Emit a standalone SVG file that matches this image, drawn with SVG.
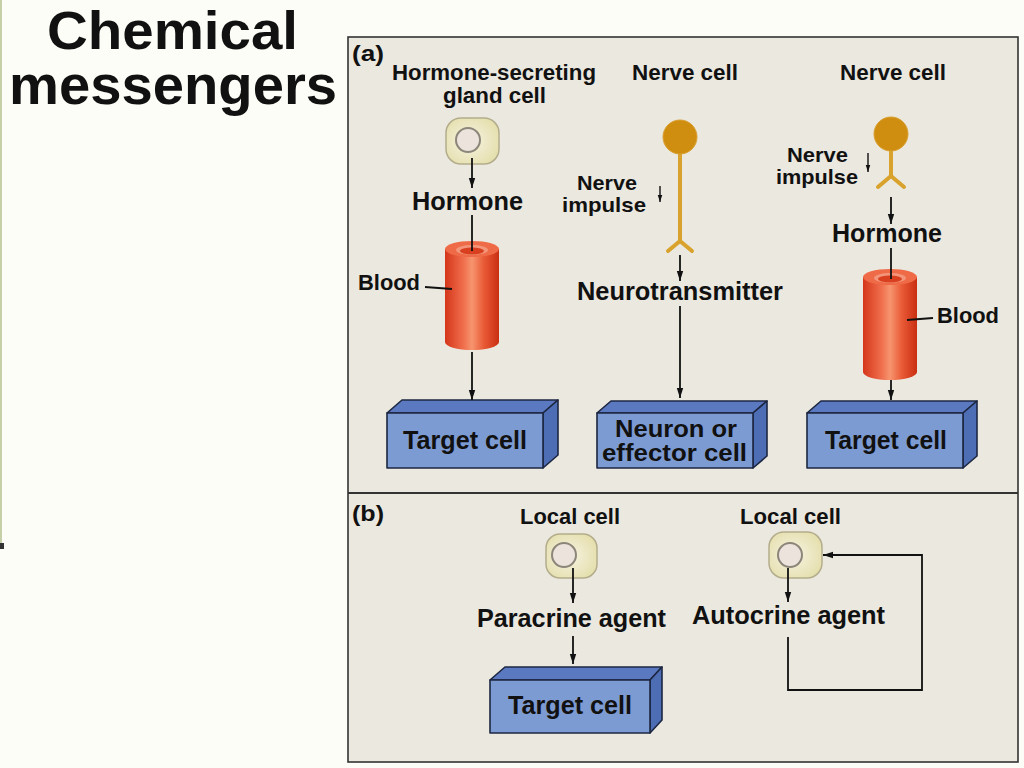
<svg xmlns="http://www.w3.org/2000/svg" width="1024" height="768" viewBox="0 0 1024 768">
<defs>
<style>
.t{font-family:"Liberation Sans",Arial,sans-serif;font-weight:bold;fill:#111;}
.ln{stroke:#111;stroke-width:1.8;fill:none;}
.ar{stroke:#111;stroke-width:1.8;fill:none;marker-end:url(#ah);}
.sm{stroke:#111;stroke-width:1.4;fill:none;marker-end:url(#ahs);}
.front{fill:#7d9bd3;stroke:#1d2742;stroke-width:1.6;stroke-linejoin:round;}
.top{fill:#5b79c1;stroke:#1d2742;stroke-width:1.6;stroke-linejoin:round;}
.side{fill:#4d6db5;stroke:#1d2742;stroke-width:1.6;stroke-linejoin:round;}
.cell{fill:url(#cellg);stroke:#b4ad8c;stroke-width:1.5;}
.nuc{fill:#ebe3dc;stroke:#8c867a;stroke-width:2;}
.soma{fill:#d08e10;stroke:#d9a030;stroke-width:1;}
.axon{stroke:#d9a22c;stroke-width:4;fill:none;stroke-linecap:round;stroke-linejoin:round;}
</style>
<marker id="ah" viewBox="0 0 10 8" refX="10" refY="4" markerWidth="10" markerHeight="8" markerUnits="userSpaceOnUse" orient="auto"><path d="M0,0.8 L10,4 L0,7.2 Z" fill="#111"/></marker>
<marker id="ahs" viewBox="0 0 10 8" refX="10" refY="4" markerWidth="7" markerHeight="6" markerUnits="userSpaceOnUse" orient="auto"><path d="M0,0.8 L10,4 L0,7.2 Z" fill="#111"/></marker>
<radialGradient id="cellg" cx="0.45" cy="0.5" r="0.6"><stop offset="0" stop-color="#f6f3e2"/><stop offset="1" stop-color="#e5dfad"/></radialGradient>
<linearGradient id="cyl" x1="0" y1="0" x2="1" y2="0"><stop offset="0" stop-color="#d5361a"/><stop offset="0.35" stop-color="#f0704e"/><stop offset="0.5" stop-color="#f6956f"/><stop offset="0.72" stop-color="#e95a36"/><stop offset="1" stop-color="#c92f12"/></linearGradient>
</defs>
<rect x="0" y="0" width="1024" height="768" fill="#fdfdf8"/>
<rect x="0" y="0" width="2" height="545" fill="#c5cfa8"/>
<rect x="0" y="543" width="4" height="6" fill="#333"/>
<g id="title">
<text class="t" x="47" y="49" font-size="53" textLength="251" lengthAdjust="spacingAndGlyphs">Chemical</text>
<text class="t" x="9" y="104" font-size="55" textLength="328" lengthAdjust="spacingAndGlyphs">messengers</text>
</g>
<g id="panel">
<rect x="348" y="37" width="670" height="725" fill="#ebe8df" stroke="#333" stroke-width="1.6"/>
<line x1="348" y1="493" x2="1018" y2="493" stroke="#333" stroke-width="1.8"/>
<text class="t" x="352" y="61" font-size="22" textLength="32" lengthAdjust="spacingAndGlyphs">(a)</text>
<text class="t" x="352" y="521" font-size="22" textLength="32" lengthAdjust="spacingAndGlyphs">(b)</text>
</g>
<g id="gland-cell">
<text class="t" x="392" y="80" font-size="22" textLength="204" lengthAdjust="spacingAndGlyphs">Hormone-secreting</text>
<text class="t" x="443" y="103" font-size="22" textLength="103" lengthAdjust="spacingAndGlyphs">gland cell</text>
<rect class="cell" x="446" y="118" width="53" height="46" rx="15"/>
<circle class="nuc" cx="468" cy="140" r="12"/>
</g>
<g id="hormone-left"><text class="t" x="412" y="210" font-size="25" textLength="111" lengthAdjust="spacingAndGlyphs">Hormone</text></g>
<g id="blood-left">
<path d="M445,249 V342 A27,8 0 0 0 499,342 V249 Z" fill="url(#cyl)"/>
<ellipse cx="472" cy="249" rx="27" ry="8" fill="#ef6a47"/>
<ellipse cx="472" cy="250" rx="16" ry="5" fill="#f3957a"/>
<ellipse cx="472" cy="251" rx="12" ry="3.5" fill="#d8401f"/>
<text class="t" x="358" y="290" font-size="22" textLength="62" lengthAdjust="spacingAndGlyphs">Blood</text>
</g>
<g id="target-left">
<polygon class="top" points="387,413 402,400 558,400 543,413"/>
<polygon class="side" points="543,413 558,400 558,455 543,468"/>
<rect class="front" x="387" y="413" width="156" height="55"/>
<text class="t" x="403" y="449" font-size="25" textLength="124" lengthAdjust="spacingAndGlyphs">Target cell</text>
</g>
<g id="nerve-mid">
<text class="t" x="632" y="80" font-size="22" textLength="106" lengthAdjust="spacingAndGlyphs">Nerve cell</text>
<path class="axon" d="M680,150 V242 M668,251 L680,241 L692,251"/>
<circle class="soma" cx="680" cy="137" r="17"/>
<text class="t" x="577" y="190" font-size="21" textLength="60" lengthAdjust="spacingAndGlyphs">Nerve</text>
<text class="t" x="562" y="212" font-size="21" textLength="84" lengthAdjust="spacingAndGlyphs">impulse</text>
</g>
<g id="neurotransmitter"><text class="t" x="577" y="300" font-size="25" textLength="206" lengthAdjust="spacingAndGlyphs">Neurotransmitter</text></g>
<g id="neuron-effector">
<polygon class="top" points="597,413 611,401 767,401 753,413"/>
<polygon class="side" points="753,413 767,401 767,456 753,468"/>
<rect class="front" x="597" y="413" width="156" height="55"/>
<text class="t" x="615" y="437" font-size="24" textLength="122" lengthAdjust="spacingAndGlyphs">Neuron or</text>
<text class="t" x="602" y="461" font-size="24" textLength="145" lengthAdjust="spacingAndGlyphs">effector cell</text>
</g>
<g id="nerve-right">
<text class="t" x="840" y="80" font-size="22" textLength="106" lengthAdjust="spacingAndGlyphs">Nerve cell</text>
<path class="axon" d="M891,148 V176 M878,187 L891,176 L904,187"/>
<circle class="soma" cx="891" cy="134" r="17"/>
<text class="t" x="787" y="162" font-size="21" textLength="61" lengthAdjust="spacingAndGlyphs">Nerve</text>
<text class="t" x="776" y="184" font-size="21" textLength="82" lengthAdjust="spacingAndGlyphs">impulse</text>
</g>
<g id="hormone-right"><text class="t" x="832" y="242" font-size="25" textLength="110" lengthAdjust="spacingAndGlyphs">Hormone</text></g>
<g id="blood-right">
<path d="M863,277 V372 A27,8 0 0 0 917,372 V277 Z" fill="url(#cyl)"/>
<ellipse cx="890" cy="277" rx="27" ry="8" fill="#ef6a47"/>
<ellipse cx="890" cy="278" rx="16" ry="5" fill="#f3957a"/>
<ellipse cx="890" cy="279" rx="12" ry="3.5" fill="#d8401f"/>
<text class="t" x="937" y="323" font-size="22" textLength="62" lengthAdjust="spacingAndGlyphs">Blood</text>
</g>
<g id="target-right">
<polygon class="top" points="807,413 821,401 977,401 963,413"/>
<polygon class="side" points="963,413 977,401 977,456 963,468"/>
<rect class="front" x="807" y="413" width="156" height="55"/>
<text class="t" x="825" y="449" font-size="25" textLength="122" lengthAdjust="spacingAndGlyphs">Target cell</text>
</g>
<g id="local-cell-left">
<text class="t" x="520" y="524" font-size="22" textLength="100" lengthAdjust="spacingAndGlyphs">Local cell</text>
<rect class="cell" x="546" y="534" width="51" height="44" rx="14"/>
<circle class="nuc" cx="564" cy="555" r="12"/>
</g>
<g id="paracrine"><text class="t" x="477" y="627" font-size="25" textLength="189" lengthAdjust="spacingAndGlyphs">Paracrine agent</text></g>
<g id="target-b">
<polygon class="top" points="490,680 505,667 662,667 650,680"/>
<polygon class="side" points="650,680 662,667 662,720 650,733"/>
<rect class="front" x="490" y="680" width="160" height="53"/>
<text class="t" x="508" y="714" font-size="25" textLength="124" lengthAdjust="spacingAndGlyphs">Target cell</text>
</g>
<g id="local-cell-right">
<text class="t" x="740" y="524" font-size="22" textLength="101" lengthAdjust="spacingAndGlyphs">Local cell</text>
<rect class="cell" x="769" y="532" width="53" height="46" rx="15"/>
<circle class="nuc" cx="790" cy="555" r="12"/>
</g>
<g id="autocrine"><text class="t" x="692" y="624" font-size="25" textLength="193" lengthAdjust="spacingAndGlyphs">Autocrine agent</text></g>
<g id="connectors">
<path class="ar" d="M472,158 V188"/>
<path class="ln" d="M472,215 V251"/>
<path class="ln" d="M425,287 L452,289"/>
<path class="ar" d="M472,352 V400"/>
<path class="sm" d="M660,186 V202"/>
<path class="ar" d="M680,255 V281"/>
<path class="ar" d="M680,306 V398"/>
<path class="sm" d="M868,153 V172"/>
<path class="ar" d="M891,197 V224"/>
<path class="ln" d="M891,248 V279"/>
<path class="ln" d="M907,320 L933,318"/>
<path class="ar" d="M891,380 V400"/>
<path class="ar" d="M573,568 V603"/>
<path class="ar" d="M573,636 V664"/>
<path class="ar" d="M788,568 V602"/>
<path class="ar" d="M788,637 V690 H922 V555 H823"/>
</g>
</svg>
